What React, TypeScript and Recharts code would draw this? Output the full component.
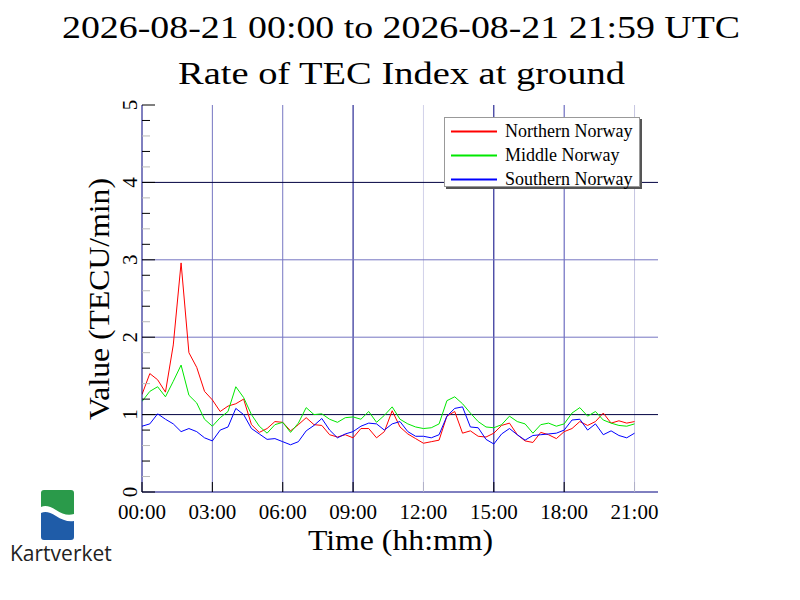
import { LineChart, Line, XAxis, YAxis, ReferenceLine, Legend } from 'recharts';

// sample times (UTC, 20 min steps)
const TIMES = [
  '00:00', '00:20', '00:40', '01:00', '01:20', '01:40', '02:00', '02:20',
  '02:40', '03:00', '03:20', '03:40', '04:00', '04:20', '04:40', '05:00',
  '05:20', '05:40', '06:00', '06:20', '06:40', '07:00', '07:20', '07:40',
  '08:00', '08:20', '08:40', '09:00', '09:20', '09:40', '10:00', '10:20',
  '10:40', '11:00', '11:20', '11:40', '12:00', '12:20', '12:40', '13:00',
  '13:20', '13:40', '14:00', '14:20', '14:40', '15:00', '15:20', '15:40',
  '16:00', '16:20', '16:40', '17:00', '17:20', '17:40', '18:00', '18:20',
  '18:40', '19:00', '19:20', '19:40', '20:00', '20:20', '20:40', '21:00',
];

const NORTH = [
  1.26, 1.53, 1.45, 1.29, 1.90, 2.96, 1.80, 1.61,
  1.30, 1.19, 1.04, 1.11, 1.14, 1.20, 0.87, 0.77,
  0.82, 0.91, 0.90, 0.79, 0.87, 0.96, 0.87, 0.86,
  0.74, 0.71, 0.74, 0.70, 0.82, 0.82, 0.70, 0.78,
  1.05, 0.84, 0.75, 0.69, 0.63, 0.65, 0.67, 0.98,
  1.04, 0.76, 0.79, 0.72, 0.71, 0.76, 0.86, 0.89,
  0.74, 0.66, 0.64, 0.77, 0.74, 0.69, 0.78, 0.82,
  0.91, 0.86, 0.91, 1.02, 0.89, 0.92, 0.89, 0.91,
];

const MIDDLE = [
  1.17, 1.30, 1.36, 1.23, 1.43, 1.64, 1.25, 1.15,
  0.94, 0.85, 0.96, 1.04, 1.36, 1.22, 1.00, 0.85,
  0.76, 0.87, 0.90, 0.77, 0.89, 1.09, 1.00, 1.01,
  0.94, 0.90, 0.96, 0.97, 0.94, 1.04, 0.90, 0.99,
  1.10, 0.94, 0.88, 0.84, 0.82, 0.83, 0.88, 1.18,
  1.23, 1.14, 1.02, 0.91, 0.84, 0.83, 0.87, 0.98,
  0.91, 0.88, 0.76, 0.87, 0.89, 0.85, 0.88, 1.02,
  1.09, 0.98, 1.04, 0.93, 0.89, 0.86, 0.85, 0.88,
];

const SOUTH = [
  0.85, 0.88, 1.01, 0.94, 0.88, 0.78, 0.82, 0.78,
  0.70, 0.66, 0.80, 0.84, 1.08, 1.00, 0.82, 0.75,
  0.68, 0.69, 0.65, 0.61, 0.65, 0.79, 0.86, 0.95,
  0.80, 0.70, 0.75, 0.78, 0.85, 0.89, 0.88, 0.80,
  0.88, 0.91, 0.78, 0.72, 0.72, 0.70, 0.74, 0.98,
  1.08, 1.10, 0.84, 0.83, 0.68, 0.62, 0.75, 0.82,
  0.74, 0.67, 0.73, 0.74, 0.75, 0.76, 0.80, 0.93,
  0.94, 0.80, 0.88, 0.74, 0.79, 0.73, 0.70, 0.76,
];

const HOUR_TICKS = [0, 3, 6, 9, 12, 15, 18, 21];
const VALUE_TICKS = [
  0, 0.2, 0.4, 0.6, 0.8, 1, 1.2, 1.4, 1.6, 1.8, 2, 2.2, 2.4, 2.6, 2.8,
  3, 3.2, 3.4, 3.6, 3.8, 4, 4.2, 4.4, 4.6, 4.8, 5,
];
const MAJOR_TICKS = [0, 1, 2, 3, 4, 5];

const SERIES = [
  { key: 'north', name: 'Northern Norway', color: '#ff0000' },
  { key: 'middle', name: 'Middle Norway', color: '#00e800' },
  { key: 'south', name: 'Southern Norway', color: '#0000ff' },
];

const NAVY = '#000080';
const SLATE = '#7676c2';
const PALE = '#d2d2ea';
const V_GRID_COLORS: Record<number, string> = {
  3: SLATE, 6: SLATE, 9: NAVY, 12: PALE, 15: NAVY, 18: '#5050b4', 21: '#c6c6e2',
};
const H_GRID_COLORS: Record<number, string> = { 1: '#000040', 2: SLATE, 3: SLATE, 4: '#000040' };

const SERIF = '"Liberation Serif", "Times New Roman", serif';

const toHours = (s: string) => {
  const [h, m] = s.split(':').map(Number);
  return h + m / 60;
};
const fmtHour = (v: number) => `${String(Math.floor(v)).padStart(2, '0')}:00`;

const data = TIMES.map((t, i) => ({
  t: toHours(t),
  north: NORTH[i],
  middle: MIDDLE[i],
  south: SOUTH[i],
}));

const tickColor = (h: number) => (h === 12 || h === 21 ? '#b0b0c8' : '#000');

const BottomTick = ({ x, y, payload }: any) => (
  <g>
    <line x1={x} x2={x} y1={y} y2={y - 10} stroke={tickColor(payload.value)} />
    <text x={x} y={y + 27} textAnchor="middle" fontSize={21} fontFamily={SERIF} fill="#000">
      {fmtHour(payload.value)}
    </text>
  </g>
);

const TopTick = ({ x, y, payload }: any) =>
  payload.value === 0 ? <g /> : (
    <line x1={x} x2={x} y1={y} y2={y + 10} stroke={tickColor(payload.value)} />
  );

const LeftTick = ({ x, y, payload }: any) => {
  const v = payload.value;
  const idx = Math.round(v * 5);
  const major = idx % 5 === 0;
  return (
    <g>
      <line
        x1={x}
        x2={x + (major ? 13 : 8)}
        y1={y}
        y2={y}
        stroke={major || idx % 2 === 0 ? '#000' : '#b8b8b8'}
      />
      {major && (
        <text
          x={x - 5}
          y={y}
          transform={`rotate(-90 ${x - 5} ${y})`}
          textAnchor="middle"
          fontSize={21}
          fontFamily={SERIF}
          fill="#000"
        >
          {v}
        </text>
      )}
    </g>
  );
};

const RightTick = ({ x, y }: any) => <line x1={x} x2={x - 12} y1={y} y2={y} stroke="#000" />;

const LegendBox = () => (
  <div
    style={{
      width: 196,
      height: 70,
      background: '#fff',
      border: '1px solid #999',
      boxShadow: '2px 2px 0 #555',
      fontFamily: SERIF,
      fontSize: 18,
      boxSizing: 'border-box',
      paddingTop: 1,
    }}
  >
    {SERIES.map((s) => (
      <div key={s.key} style={{ display: 'flex', alignItems: 'center', height: 24 }}>
        <div
          style={{
            width: 46,
            height: 1.4,
            background: s.color,
            marginLeft: 6,
            marginRight: 8,
            transform: 'translateY(0.5px)',
          }}
        />
        <span style={{ lineHeight: '18px' }}>{s.name}</span>
      </div>
    ))}
  </div>
);

export default function App() {
  return (
    <div style={{ position: 'absolute', left: 0, top: 0, width: 800, height: 600, background: '#fff' }}>
      <LineChart width={800} height={600} data={data} margin={{ top: 105, right: 142, bottom: 68, left: 102 }}>
        <XAxis
          xAxisId="b"
          type="number"
          dataKey="t"
          domain={[0, 22]}
          ticks={HOUR_TICKS}
          interval={0}
          height={40}
          tickSize={0}
          tickMargin={0}
          tick={(p: any) => <BottomTick {...p} />}
          axisLine={{ stroke: NAVY }}
          allowDataOverflow
        />
        <XAxis
          xAxisId="t"
          orientation="top"
          type="number"
          dataKey="t"
          domain={[0, 22]}
          ticks={HOUR_TICKS}
          interval={0}
          height={0}
          tickSize={0}
          tickMargin={0}
          tick={(p: any) => <TopTick {...p} />}
          axisLine={{ stroke: '#6e6e86' }}
          allowDataOverflow
        />
        <YAxis
          yAxisId="l"
          domain={[0, 5]}
          ticks={VALUE_TICKS}
          interval={0}
          width={40}
          tickSize={0}
          tickMargin={0}
          tick={(p: any) => <LeftTick {...p} />}
          axisLine={{ stroke: NAVY }}
          allowDataOverflow
        />
        <YAxis
          yAxisId="r"
          orientation="right"
          domain={[0, 5]}
          ticks={MAJOR_TICKS}
          interval={0}
          width={0}
          tickSize={0}
          tickMargin={0}
          tick={(p: any) => <RightTick {...p} />}
          axisLine={{ stroke: '#000' }}
          allowDataOverflow
        />
        {HOUR_TICKS.filter((h) => V_GRID_COLORS[h]).map((h) => (
          <ReferenceLine key={`vx${h}`} x={h} xAxisId="b" yAxisId="l" stroke={V_GRID_COLORS[h]} strokeWidth={1} />
        ))}
        {MAJOR_TICKS.filter((v) => H_GRID_COLORS[v]).map((v) => (
          <ReferenceLine key={`hy${v}`} y={v} xAxisId="b" yAxisId="l" stroke={H_GRID_COLORS[v]} strokeWidth={1} />
        ))}
        {SERIES.map((s) => (
          <Line
            key={s.key}
            xAxisId="b"
            yAxisId="l"
            type="linear"
            dataKey={s.key}
            name={s.name}
            stroke={s.color}
            strokeWidth={1}
            dot={false}
            isAnimationActive={false}
          />
        ))}
        <Legend
          layout="vertical"
          align="center"
          verticalAlign="middle"
          content={() => <LegendBox />}
          wrapperStyle={{ position: 'absolute', left: 444, top: 117, width: 198 }}
        />
      </LineChart>
      <svg
        width={800}
        height={600}
        style={{ position: 'absolute', left: 0, top: 0, pointerEvents: 'none' }}
      >
        <text x={62} y={38} fontSize={32} fontFamily={SERIF} textLength={678} lengthAdjust="spacingAndGlyphs">
          2026-08-21 00:00 to 2026-08-21 21:59 UTC
        </text>
        <text x={178} y={84} fontSize={32} fontFamily={SERIF} textLength={447} lengthAdjust="spacingAndGlyphs">
          Rate of TEC Index at ground
        </text>
        <text x={308} y={550} fontSize={30} fontFamily={SERIF} textLength={185} lengthAdjust="spacingAndGlyphs">
          Time (hh:mm)
        </text>
        <text
          x={0}
          y={0}
          transform="translate(109 420) rotate(-90)"
          fontSize={30}
          fontFamily={SERIF}
          textLength={242}
          lengthAdjust="spacingAndGlyphs"
        >
          Value (TECU/min)
        </text>
        <path
          d="M41,493 Q41,490 44,490 L71,490 Q74,490 74,493 L74,514 C68,516 62,514 56,510 C50,506 45,505 41,507 Z"
          fill="#2a9a4a"
        />
        <path
          d="M41,513 C45,511 50,512 56,516 C62,520 68,522 74,521 L74,537 Q74,540 71,540 L44,540 Q41,540 41,537 Z"
          fill="#1f5ca8"
        />
        <text x={10} y={561} fontSize={21} fontFamily='"Open Sans", sans-serif' fill="#222">
          Kartverket
        </text>
      </svg>
    </div>
  );
}
